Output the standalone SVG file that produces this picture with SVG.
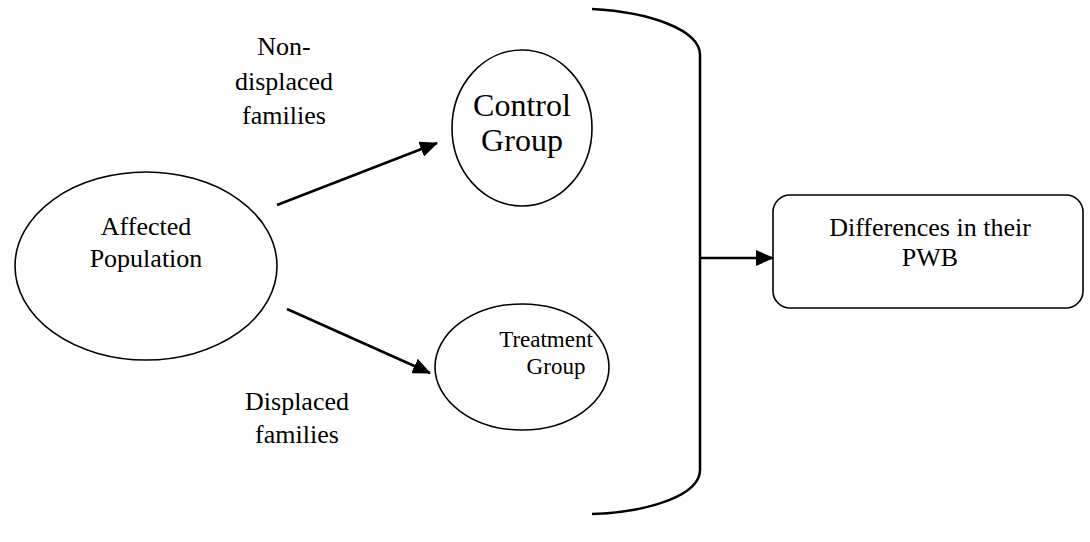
<svg xmlns="http://www.w3.org/2000/svg" width="1090" height="542" viewBox="0 0 1090 542">
<style>
.shape{fill:#fff;stroke:#000;stroke-width:1.6}
text{font-family:'Liberation Serif',serif;fill:#000;text-anchor:middle}
.f26{font-size:26px}
.f23{font-size:23px}
.f32{font-size:32px}
.conn{fill:none;stroke:#000;stroke-width:2.5}
</style>
<defs>
<marker id="ah" markerUnits="userSpaceOnUse" markerWidth="18" markerHeight="16" refX="17" refY="8" orient="auto">
<path d="M0,0 L18,8 L0,16 Z" fill="#000"/>
</marker>
</defs>
<rect width="1090" height="542" fill="#fff"/>
<g id="affected">
<ellipse class="shape" cx="146" cy="266" rx="131" ry="94"/>
<text class="f26" x="146" y="235" font-family="Liberation Serif">Affected</text>
<text class="f26" x="146" y="267" font-family="Liberation Serif">Population</text>
</g>
<g id="control">
<ellipse class="shape" cx="522" cy="128" rx="70" ry="78"/>
<text class="f32" x="522" y="116" font-family="Liberation Serif">Control</text>
<text class="f32" x="522" y="151" font-family="Liberation Serif">Group</text>
</g>
<g id="treatment">
<ellipse class="shape" cx="522" cy="367" rx="87" ry="63"/>
<text class="f23" x="546" y="347" font-family="Liberation Serif">Treatment</text>
<text class="f23" x="556" y="374" font-family="Liberation Serif">Group</text>
</g>
<g id="result">
<rect class="shape" x="773" y="195" width="310" height="113" rx="17" ry="17"/>
<text class="f26" x="930" y="236" font-family="Liberation Serif">Differences in their</text>
<text class="f26" x="930" y="266" font-family="Liberation Serif">PWB</text>
</g>
<g id="labels">
<text class="f26" x="284" y="55" font-family="Liberation Serif">Non-</text>
<text class="f26" x="284" y="90" font-family="Liberation Serif">displaced</text>
<text class="f26" x="284" y="124" font-family="Liberation Serif">families</text>
<text class="f26" x="297" y="410" font-family="Liberation Serif">Displaced</text>
<text class="f26" x="297" y="443" font-family="Liberation Serif">families</text>
</g>
<g id="connectors">
<line class="conn" x1="277" y1="205" x2="437" y2="143" marker-end="url(#ah)"/>
<line class="conn" x1="287" y1="309" x2="430" y2="373" marker-end="url(#ah)"/>
<path class="conn" stroke-width="2" d="M592,9 C650,12 700,30 700,55 L700,470 C700,495 650,512 592,514"/>
<line class="conn" x1="700" y1="258" x2="773" y2="258" marker-end="url(#ah)"/>
</g>
</svg>
